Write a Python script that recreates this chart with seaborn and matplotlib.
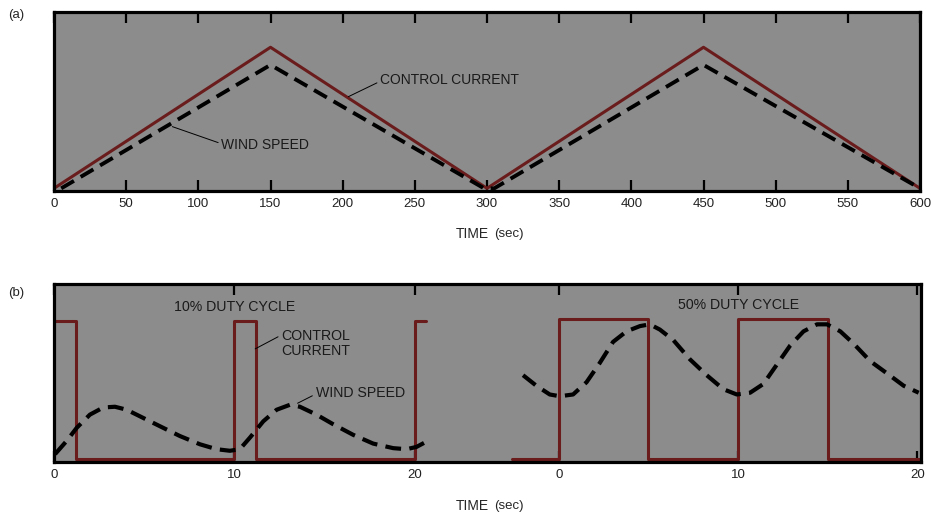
import pandas as pd
import seaborn as sns
import matplotlib.pyplot as plt

# ---- data ----
# (a) triangular sweep, 0-600 s
tri_ctrl_t = [0, 150, 300, 450, 600]
tri_ctrl_v = [0.0, 0.80, 0.0, 0.80, 0.0]
tri_wind_t = [5, 150, 298, 305, 450, 600]
tri_wind_v = [0.0, 0.70, 0.0, 0.0, 0.70, 0.0]

# (b) 10% duty cycle (control is a step signal: level holds until next time)
d10_ctrl_t = [0, 1.2, 10, 11.2, 20, 20.6]
d10_ctrl_v = [0.79, 0.0, 0.79, 0.0, 0.79, 0.79]
d10_wind_t = [0.06, 0.70, 1.26, 1.99, 2.73, 3.38, 4.03, 4.95, 5.87, 6.98, 8.09,
              9.01, 9.75, 10.30, 10.86, 11.6, 12.34, 13.07, 13.63, 14.55, 15.48,
              16.58, 17.69, 18.8, 19.54, 20.09, 20.55]
d10_wind_v = [0.03, 0.105, 0.18, 0.255, 0.296, 0.30, 0.283, 0.236, 0.189, 0.133,
              0.086, 0.058, 0.049, 0.058, 0.124, 0.217, 0.283, 0.311, 0.30, 0.255,
              0.20, 0.14, 0.09, 0.064, 0.058, 0.071, 0.096]

# (b) 50% duty cycle
d50_ctrl_t = [-2.6, 0, 5, 10, 15, 20.1]
d50_ctrl_v = [0.0, 0.80, 0.0, 0.80, 0.0, 0.0]
d50_wind_t = [-1.99, -1.25, -0.50, 0.06, 0.80, 1.55, 2.29, 3.03, 3.78, 4.53, 5.08,
              5.64, 6.39, 7.32, 8.25, 9.18, 9.93, 10.67, 11.41, 12.16, 12.91, 13.65,
              14.40, 14.96, 15.70, 16.44, 17.37, 18.31, 19.23, 20.07]
d50_wind_v = [0.48, 0.42, 0.37, 0.36, 0.37, 0.44, 0.55, 0.67, 0.73, 0.76, 0.77,
              0.74, 0.68, 0.57, 0.48, 0.40, 0.37, 0.38, 0.43, 0.54, 0.65, 0.73,
              0.77, 0.77, 0.73, 0.66, 0.56, 0.49, 0.42, 0.38]

top_ticks = [0, 50, 100, 150, 200, 250, 300, 350, 400, 450, 500, 550, 600]
bot_ticks = [0, 10, 20]

# ---- style ----
sns.set_theme(style="white")
plt.rcParams['font.family'] = ['Liberation Sans', 'DejaVu Sans']

BG = '#8c8c8c'
RED = '#6a1c1c'
DASH = (0, (3.8, 2.0))
TXT = '#1a1a1a'

W, H = 931, 514
fig = plt.figure(figsize=(W / 100, H / 100), dpi=100)


def box(l, t, r, b):
    return [l / W, 1 - b / H, (r - l) / W, (b - t) / H]


def style_ax(ax, xlim, ticks, spines=True):
    ax.set_facecolor(BG)
    ax.set_xlim(*xlim)
    ax.set_ylim(-0.015, 1)
    ax.set_xticks(ticks)
    ax.set_yticks([])
    ax.set_xlabel('')
    ax.set_ylabel('')
    ax.tick_params(axis='x', direction='in', top=True, bottom=True,
                   length=8, width=1.6, color='black', pad=5,
                   labelsize=9.5, labelcolor='#222222')
    for sp in ax.spines.values():
        sp.set_linewidth(2.3)
        sp.set_color('black')
        sp.set_visible(spines)


def draw(ax, t, v, color, ls, lw, **kw):
    df = pd.DataFrame({'t': t, 'v': v})
    sns.lineplot(data=df, x='t', y='v', ax=ax, color=color, linestyle=ls,
                 linewidth=lw, sort=False, estimator=None, legend=False, **kw)


arrow = dict(arrowstyle='-', color='black', lw=0.7, shrinkA=0, shrinkB=0)

# ---- (a) ----
ax_a = fig.add_axes(box(54, 12, 920, 191))
draw(ax_a, tri_ctrl_t, tri_ctrl_v, RED, '-', 2.2)
draw(ax_a, tri_wind_t, tri_wind_v, 'black', DASH, 2.8)
style_ax(ax_a, (0, 600), top_ticks)

ax_a.annotate('WIND SPEED', xy=(82, 0.35), xytext=(116, 0.245),
              ha='left', va='center', fontsize=10, color=TXT,
              arrowprops=dict(arrow, relpos=(0, 0.6)))
ax_a.annotate('CONTROL CURRENT', xy=(204, 0.52), xytext=(226, 0.615),
              ha='left', va='center', fontsize=10, color=TXT,
              arrowprops=dict(arrow, relpos=(0, 0.4)))

# ---- (b) left: 10% duty ----
ax_b1 = fig.add_axes(box(54, 284, 487, 462))
draw(ax_b1, d10_ctrl_t, d10_ctrl_v, RED, '-', 2.2, drawstyle='steps-post')
draw(ax_b1, d10_wind_t, d10_wind_v, 'black', DASH, 3.0)
style_ax(ax_b1, (0, 24), bot_ticks, spines=False)

ax_b1.text(10, 0.87, '10% DUTY CYCLE', ha='center', va='center',
           fontsize=10.2, color=TXT)
ax_b1.annotate('CONTROL\nCURRENT', xy=(11.15, 0.63), xytext=(12.6, 0.66),
               ha='left', va='center', fontsize=10.2, color=TXT,
               linespacing=1.05, arrowprops=dict(arrow, relpos=(0, 0.8)))
ax_b1.annotate('WIND SPEED', xy=(13.5, 0.32), xytext=(14.5, 0.38),
               ha='left', va='center', fontsize=10.2, color=TXT,
               arrowprops=dict(arrow, relpos=(0, 0.4)))

# ---- (b) right: 50% duty ----
ax_b2 = fig.add_axes(box(487, 284, 921, 462))
draw(ax_b2, d50_ctrl_t, d50_ctrl_v, RED, '-', 2.2, drawstyle='steps-post')
draw(ax_b2, d50_wind_t, d50_wind_v, 'black', DASH, 3.0)
style_ax(ax_b2, (-4, 20.2), bot_ticks, spines=False)

ax_b2.text(10, 0.88, '50% DUTY CYCLE', ha='center', va='center',
           fontsize=10.2, color=TXT)

# one continuous frame around both halves of (b)
frame = fig.add_axes(box(54, 284, 921, 462))
frame.patch.set_visible(False)
frame.set_xticks([])
frame.set_yticks([])
for sp in frame.spines.values():
    sp.set_linewidth(2.3)
    sp.set_color('black')

# ---- figure labels ----
fig.text(8 / W, 1 - 15 / H, '(a)', fontsize=9.5, va='center', ha='left')
fig.text(8 / W, 1 - 293 / H, '(b)', fontsize=9.5, va='center', ha='left')
for y in (234, 506):
    fig.text(489 / W, 1 - y / H, 'TIME', fontsize=10, ha='right', va='center')
    fig.text(494 / W, 1 - y / H, '(sec)', fontsize=9.5, ha='left', va='center')

fig.savefig('out.png', dpi=100, facecolor='white')
